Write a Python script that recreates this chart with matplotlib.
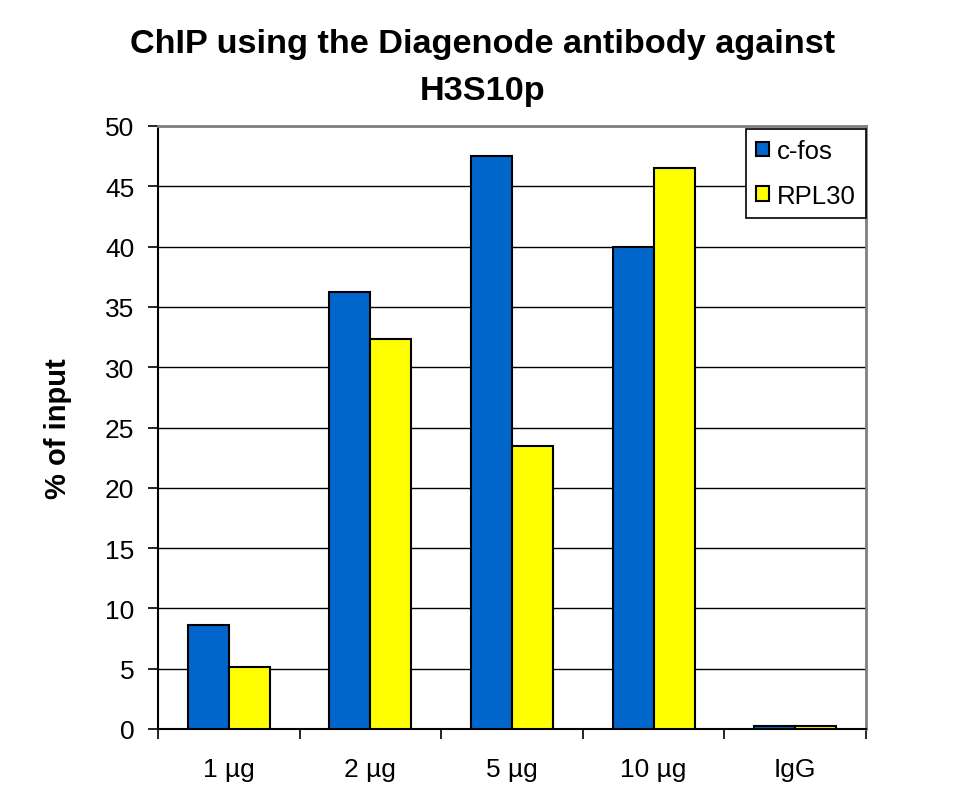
import matplotlib
matplotlib.use("Agg")
import matplotlib.pyplot as plt
import numpy as np

categories = ["1 µg", "2 µg", "5 µg", "10 µg", "IgG"]
cfos = [8.6, 36.2, 47.5, 40.0, 0.22]
rpl30 = [5.1, 32.3, 23.5, 46.5, 0.22]
series_names = ["c-fos", "RPL30"]
yticks = [0, 5, 10, 15, 20, 25, 30, 35, 40, 45, 50]

plt.rcParams['font.family'] = ['Liberation Sans', 'DejaVu Sans']

fig = plt.figure(figsize=(9.64, 8.04), dpi=100)
ax = fig.add_axes([158/964, 1-730/804, (866-158)/964, (730-127)/804])

x = np.arange(len(categories))
w = 0.29
ax.bar(x - w/2, cfos, w, color="#0066CC", edgecolor="black", linewidth=1.5, label=series_names[0], zorder=3)
ax.bar(x + w/2, rpl30, w, color="#FFFF00", edgecolor="black", linewidth=1.5, label=series_names[1], zorder=3)

ax.set_xlim(-0.5, len(categories) - 0.5)
ax.set_ylim(0, 50)
ax.set_yticks(yticks)
ax.set_yticklabels([str(t) for t in yticks], fontsize=19)
ax.set_xticks(x)
ax.set_xticklabels(categories, fontsize=19)
ax.tick_params(axis='x', length=0, pad=20)
ax.set_xticks(np.arange(-0.5, len(categories), 1), minor=True)
ax.tick_params(axis='x', which='minor', length=7, width=1.2, direction='out')
ax.tick_params(axis='y', length=7, width=1.2, direction='out', pad=10)
ax.yaxis.grid(True, color='black', linewidth=1)
ax.set_axisbelow(True)

for s in ['top', 'right']:
    ax.spines[s].set_color('#808080')
    ax.spines[s].set_linewidth(2)
for s in ['left', 'bottom']:
    ax.spines[s].set_color('black')
    ax.spines[s].set_linewidth(1.5)

ax.set_ylabel("% of input", fontsize=21, fontweight='bold', labelpad=24)
fig.text(483/964, 1-53/804, "ChIP using the Diagenode antibody against", ha='center', va='baseline',
         fontsize=24.7, fontweight='bold')
fig.text(483/964, 1-100/804, "H3S10p", ha='center', va='baseline', fontsize=24.7, fontweight='bold')

leg = ax.legend(loc='upper right', bbox_to_anchor=(866/964, 1-130/804), bbox_transform=fig.transFigure,
                fontsize=18.5, frameon=True, fancybox=False, edgecolor='black', framealpha=1,
                handlelength=0.5, handleheight=0.5, handletextpad=0.3, labelspacing=0.8,
                borderpad=0.4, borderaxespad=0)
leg.get_frame().set_linewidth(1.2)

fig.savefig("out.png", dpi=100)
